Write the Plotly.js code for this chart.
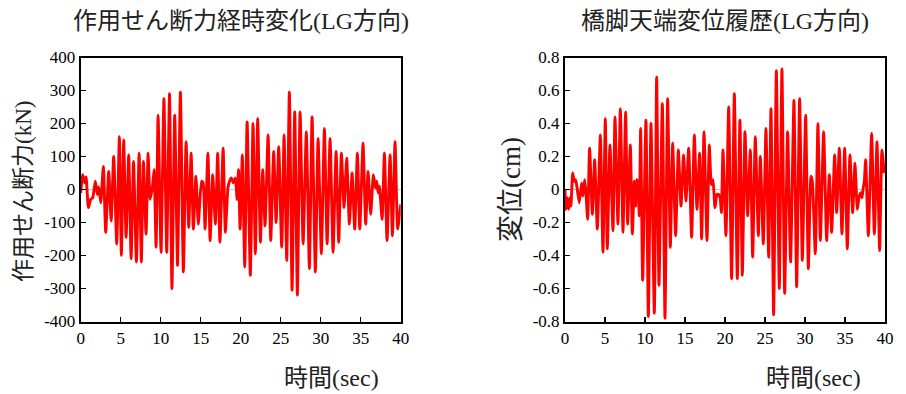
<!DOCTYPE html>
<html>
<head>
<meta charset="utf-8">
<script src="https://cdn.plot.ly/plotly-3.0.1.min.js"></script>
<style>html,body{margin:0;padding:0;background:#fff;}#chart{width:906px;height:394px;}</style>
</head>
<body>
<div id="chart"></div>
<script>
// Left chart: shear force time history (kN)
const timeShear = [0, 0.25, 0.5, 0.67, 0.96, 1.25, 1.5, 1.83, 2.08, 2.25, 2.5, 2.83, 3.12, 3.5, 3.8, 4.12, 4.5, 4.83, 5.08, 5.37, 5.67, 6.0, 6.3, 6.6, 6.96, 7.3, 7.58, 7.83, 8.17, 8.42, 8.67, 9.0, 9.17, 9.42, 9.67, 10.04, 10.4, 10.75, 11.1, 11.4, 11.75, 12.1, 12.46, 12.83, 13.17, 13.5, 13.8, 14.08, 14.4, 14.7, 15.1, 15.3, 15.54, 15.9, 16.17, 16.5, 16.83, 17.12, 17.4, 17.8, 18.08, 18.4, 18.6, 18.83, 19.08, 19.33, 19.55, 19.72, 19.92, 20.2, 20.5, 20.8, 21.2, 21.54, 21.83, 22.12, 22.46, 22.75, 23.04, 23.42, 23.75, 24.12, 24.42, 24.75, 25.12, 25.42, 25.75, 26.08, 26.42, 26.75, 27.08, 27.42, 27.8, 28.2, 28.58, 28.92, 29.33, 29.67, 30.08, 30.46, 30.8, 31.17, 31.54, 31.92, 32.25, 32.58, 32.92, 33.25, 33.58, 33.92, 34.25, 34.58, 34.88, 35.29, 35.62, 35.92, 36.25, 36.58, 36.83, 37.0, 37.17, 37.33, 37.67, 37.96, 38.29, 38.67, 38.96, 39.29, 39.62, 40.0];
const shearForce = [-10, 45, 20, 38, -55, -30, -25, 25, -15, 8, -40, 70, -130, 55, -95, 100, -165, 160, -200, 150, -145, 105, -210, 85, -220, 110, -220, 85, -135, 110, -30, 15, 60, -175, 225, -190, 275, -190, 290, -300, 225, -230, 295, -250, 145, -115, 110, -120, 40, -105, 25, 20, -120, 110, -155, 45, -105, 110, -160, 125, -130, 5, 25, 35, 20, 35, -30, 60, -120, 105, -235, 205, -260, 200, -195, 215, -160, 60, -110, 165, -155, 115, -100, 130, -175, 165, -215, 295, -305, 235, -320, 235, -165, 175, -240, 220, -250, 155, -195, 185, -165, 155, -190, 115, -160, 110, -55, 95, -105, 50, -120, 110, -120, 140, -105, 55, -75, 45, 5, 25, -10, 10, -90, 110, -155, 105, -140, 145, -120, -45];

// Right chart: pier top displacement history (cm)
const timeDisp = [0, 0.12, 0.29, 0.46, 0.62, 0.75, 0.96, 1.17, 1.33, 1.54, 1.79, 2.08, 2.25, 2.46, 2.62, 2.83, 3.08, 3.42, 3.71, 4.04, 4.42, 4.75, 5.04, 5.29, 5.62, 6.0, 6.25, 6.62, 6.92, 7.25, 7.58, 7.83, 8.17, 8.42, 8.67, 8.83, 8.96, 9.12, 9.29, 9.46, 9.71, 10.12, 10.42, 10.75, 11.17, 11.46, 11.75, 12.17, 12.5, 12.83, 13.17, 13.46, 13.83, 14.17, 14.5, 14.83, 15.12, 15.46, 15.83, 16.17, 16.5, 16.83, 17.08, 17.38, 17.75, 18.04, 18.29, 18.5, 18.75, 19.0, 19.2, 19.4, 19.55, 19.75, 20.12, 20.46, 20.83, 21.17, 21.54, 21.87, 22.17, 22.5, 22.83, 23.17, 23.46, 23.79, 24.17, 24.42, 24.79, 25.12, 25.46, 25.75, 26.08, 26.42, 26.79, 27.12, 27.46, 27.83, 28.2, 28.62, 28.96, 29.33, 29.67, 30.08, 30.42, 30.75, 30.92, 31.29, 31.62, 31.92, 32.33, 32.71, 33.04, 33.33, 33.71, 33.96, 34.29, 34.62, 34.96, 35.29, 35.62, 35.96, 36.25, 36.54, 36.75, 36.96, 37.12, 37.25, 37.42, 37.58, 37.92, 38.33, 38.67, 39.0, 39.33, 39.62, 39.9];
const displacement = [0, -0.12, -0.05, -0.12, -0.05, -0.1, 0.1, 0.05, 0.06, 0.0, -0.08, 0.04, -0.04, 0.06, -0.02, -0.18, 0.25, -0.15, 0.18, -0.24, 0.33, -0.38, 0.43, -0.36, 0.27, -0.25, 0.44, -0.21, 0.49, -0.26, 0.47, -0.21, 0.27, -0.27, 0.05, -0.1, 0.06, 0.04, -0.16, 0.37, -0.55, 0.42, -0.77, 0.40, -0.75, 0.68, -0.58, 0.52, -0.78, 0.55, -0.35, 0.28, -0.28, 0.24, -0.1, 0.21, -0.07, 0.25, -0.29, 0.33, -0.12, 0.22, -0.3, 0.35, -0.31, 0.27, 0.03, 0.06, -0.11, -0.03, -0.03, -0.05, -0.14, 0.24, -0.28, 0.5, -0.54, 0.58, -0.54, 0.42, -0.52, 0.35, -0.16, 0.24, -0.41, 0.32, -0.28, 0.2, -0.33, 0.37, -0.41, 0.49, -0.76, 0.72, -0.6, 0.73, -0.63, 0.35, -0.44, 0.54, -0.59, 0.55, -0.43, 0.45, -0.48, 0.08, 0.05, -0.39, 0.4, -0.31, 0.35, -0.31, 0.09, -0.26, 0.21, -0.14, 0.25, -0.27, 0.25, -0.36, 0.21, -0.14, 0.16, -0.12, -0.05, -0.02, -0.05, 0.0, 0.05, 0.18, -0.28, 0.34, -0.27, 0.29, -0.37, 0.24, 0.1];

const xTicks = [0, 5, 10, 15, 20, 25, 30, 35, 40];
const shearTicks = [-400, -300, -200, -100, 0, 100, 200, 300, 400];
const shearTickText = ['-400', '-300', '-200', '-100', '0', '100', '200', '300', '400'];
const dispTicks = [-0.8, -0.6, -0.4, -0.2, 0, 0.2, 0.4, 0.6, 0.8];
const dispTickText = ['-0.8', '-0.6', '-0.4', '-0.2', '0', '0.2', '0.4', '0.6', '0.8'];

const titles = ['作用せん断力経時変化(LG方向)', '橋脚天端変位履歴(LG方向)'];
const yTitles = ['作用せん断力(kN)', '変位(cm)'];
const xTitle = '時間(sec)';

const FONT = 'Liberation Serif, Times New Roman, Noto Sans CJK JP, serif';
const tickFont = {family: FONT, size: 17, color: '#000'};

const line = {color: '#ff0000', width: 2.9, shape: 'spline', smoothing: 0.5};

const traces = [
  {x: timeShear, y: shearForce, type: 'scatter', mode: 'lines', line: line, xaxis: 'x', yaxis: 'y', hoverinfo: 'none'},
  {x: timeDisp, y: displacement, type: 'scatter', mode: 'lines', line: line, xaxis: 'x2', yaxis: 'y2', hoverinfo: 'none'}
];

function xAxis(domain, anchor) {
  return {
    domain: domain, anchor: anchor, range: [0, 40], tickvals: xTicks, ticks: 'inside', ticklen: 5,
    tickwidth: 1.5, tickcolor: '#000', showline: true, linecolor: '#000', linewidth: 2, mirror: true,
    showgrid: false, zeroline: false, tickfont: tickFont, fixedrange: true
  };
}
function yAxis(domain, anchor, range, vals, text) {
  return {
    domain: domain, anchor: anchor, range: range, tickvals: vals, ticktext: text, ticks: 'inside', ticklen: 5,
    tickwidth: 1.5, tickcolor: '#000', showline: true, linecolor: '#000', linewidth: 2, mirror: true,
    showgrid: false, zeroline: true, zerolinecolor: '#c8c8c8', zerolinewidth: 1, tickfont: tickFont, fixedrange: true
  };
}

const yDom = [0.184, 0.854];
const layout = {
  width: 906, height: 394,
  margin: {l: 0, r: 0, t: 0, b: 0},
  paper_bgcolor: '#fff', plot_bgcolor: '#fff',
  showlegend: false,
  xaxis: xAxis([0.0891, 0.4423], 'y'),
  yaxis: yAxis(yDom, 'x', [-400, 400], shearTicks, shearTickText),
  xaxis2: xAxis([0.6236, 0.9768], 'y2'),
  yaxis2: yAxis(yDom, 'x2', [-0.8, 0.8], dispTicks, dispTickText),
  annotations: [
    {text: titles[0], xref: 'paper', yref: 'paper', x: 0.2657, y: (394 - 21) / 394, yanchor: 'middle', xanchor: 'center', showarrow: false, font: {family: FONT, size: 24, color: '#222'}},
    {text: titles[1], xref: 'paper', yref: 'paper', x: 0.8002, y: (394 - 21) / 394, yanchor: 'middle', xanchor: 'center', showarrow: false, font: {family: FONT, size: 24, color: '#222'}},
    {text: yTitles[0], xref: 'paper', yref: 'paper', x: 23 / 906, y: (394 - 192) / 394, textangle: -90, xanchor: 'center', yanchor: 'middle', showarrow: false, font: {family: FONT, size: 23, color: '#222'}},
    {text: yTitles[1], xref: 'paper', yref: 'paper', x: 511 / 906, y: (394 - 190) / 394, textangle: -90, xanchor: 'center', yanchor: 'middle', showarrow: false, font: {family: FONT, size: 27, color: '#222'}},
    {text: xTitle, xref: 'paper', yref: 'paper', x: 331 / 906, y: (394 - 378) / 394, xanchor: 'center', yanchor: 'middle', showarrow: false, font: {family: FONT, size: 24, color: '#222'}},
    {text: xTitle, xref: 'paper', yref: 'paper', x: 813 / 906, y: (394 - 378) / 394, xanchor: 'center', yanchor: 'middle', showarrow: false, font: {family: FONT, size: 24, color: '#222'}}
  ]
};

Plotly.newPlot('chart', traces, layout, {staticPlot: true, displayModeBar: false});
</script>
</body>
</html>
